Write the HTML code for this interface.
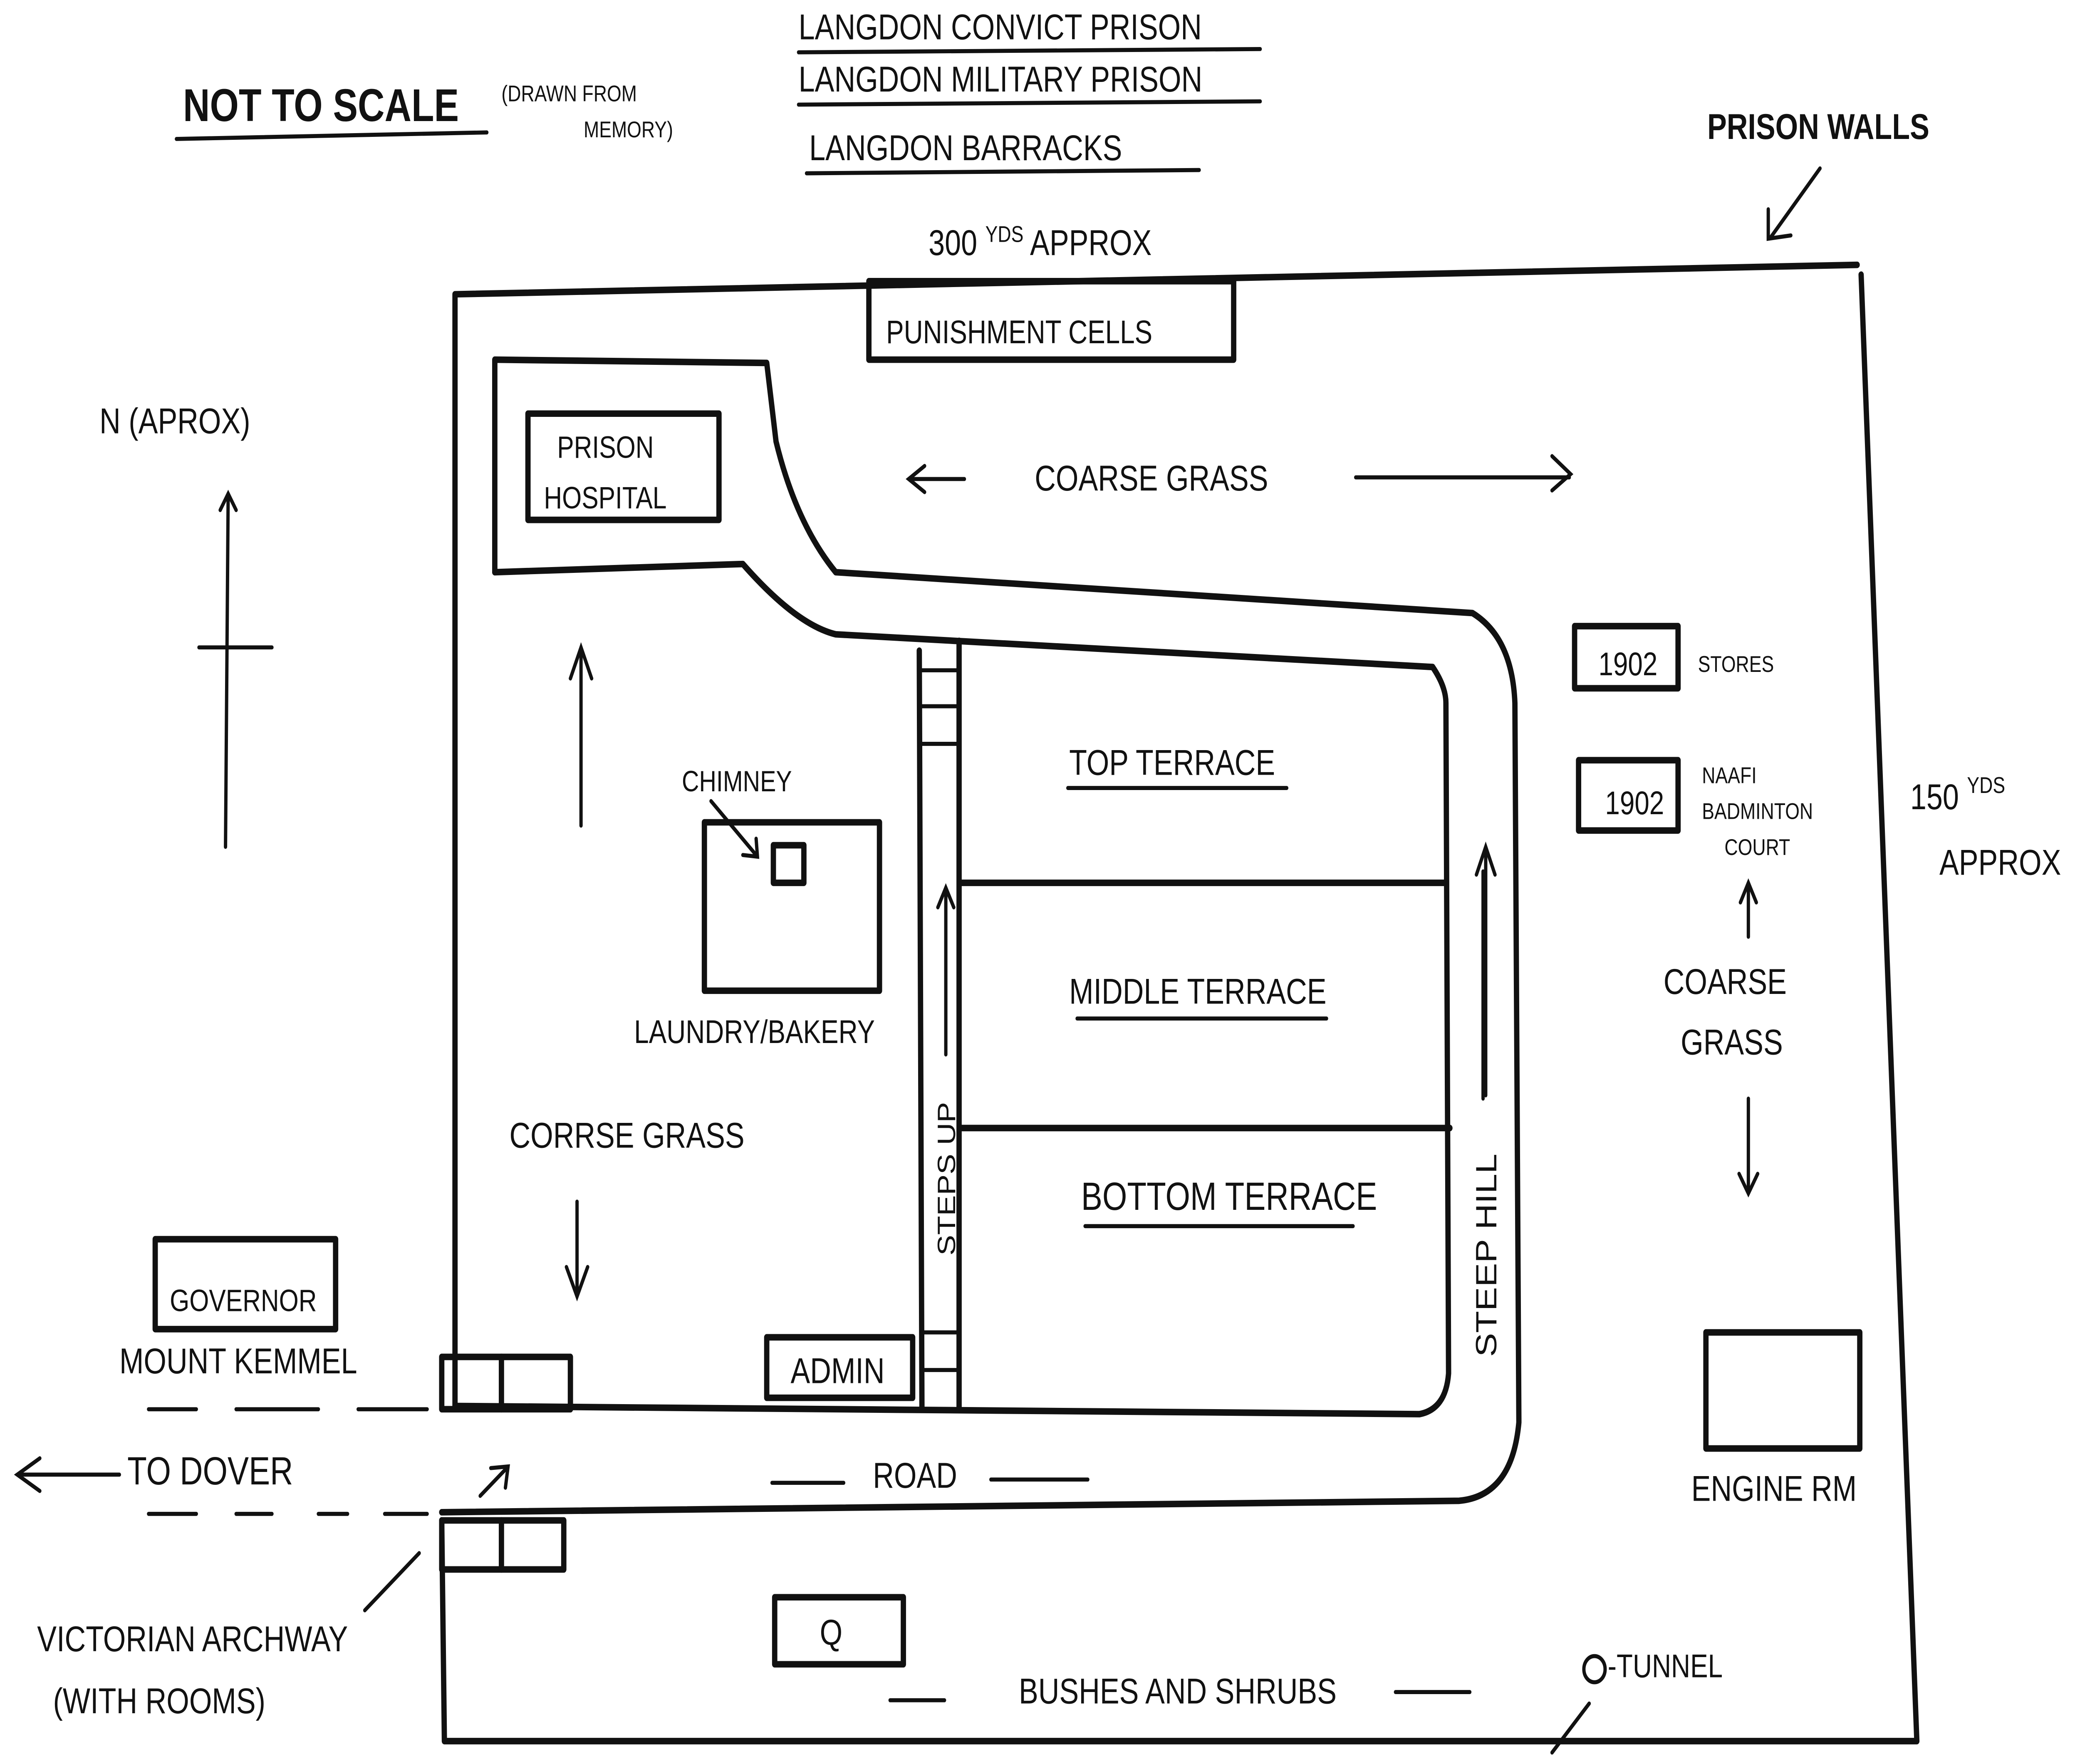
<!DOCTYPE html>
<html><head><meta charset="utf-8"><style>
html,body{margin:0;padding:0;background:#fff;width:100%;height:100%;overflow:hidden;}
svg{display:block;position:absolute;left:0;top:0;width:100vw;height:100vh;}
text{font-family:"Liberation Sans",sans-serif;fill:#111;}
</style></head><body>
<svg viewBox="0 0 1568 1079" preserveAspectRatio="none" xmlns="http://www.w3.org/2000/svg">
<rect width="1568" height="1079" fill="#fff"/>
<g stroke="#111" stroke-width="4" fill="none" stroke-linecap="round" stroke-linejoin="round">
<path d="M343,860 L343,180 L1400,162"/>
<path d="M1403,168 L1445,1065 L335,1065 L333,930"/>
<path d="M373,350 L373,220 L578,222 L585,270 Q600,320 630,350 L1110,375 Q1140,390 1142,430 L1145,870 Q1140,915 1100,918 L333,925"/>
<path d="M373,350 L560,345 Q600,382 630,388 L1080,408 Q1090,420 1090,430 L1092,840 Q1090,862 1070,865 L343,860"/>
<rect x="655" y="172" width="275" height="48"/>
<rect x="398" y="253" width="144" height="65"/>
<rect x="531" y="503" width="132" height="103"/>
<rect x="583" y="517" width="23" height="23"/>
<rect x="578" y="818" width="110" height="37"/>
<rect x="117" y="758" width="136" height="55"/>
<rect x="333" y="830" width="97" height="32"/><line x1="378" y1="830" x2="378" y2="862"/>
<rect x="333" y="930" width="92" height="30"/><line x1="378" y1="930" x2="378" y2="960"/>
<rect x="584" y="977" width="97" height="41"/>
<rect x="1187" y="383" width="78" height="38"/>
<rect x="1190" y="465" width="75" height="43"/>
<rect x="1286" y="815" width="116" height="71"/>
<line x1="693" y1="398" x2="695" y2="862"/><line x1="723" y1="392" x2="723" y2="862"/>
<g stroke-width="2.5"><line x1="693" y1="410" x2="723" y2="410"/><line x1="693" y1="432" x2="723" y2="432"/><line x1="693" y1="455" x2="723" y2="455"/><line x1="695" y1="815" x2="723" y2="815"/><line x1="695" y1="838" x2="723" y2="838"/></g>
<line x1="725" y1="540" x2="1090" y2="540"/>
<line x1="725" y1="690" x2="1093" y2="690"/>
</g>
<g stroke="#111" stroke-width="2.5" fill="none" stroke-linecap="round">
<line x1="172" y1="302" x2="170" y2="518"/><line x1="150" y1="396" x2="205" y2="396"/><path d="M166,312 L172,302 L178,312"/>
<line x1="438" y1="505" x2="438" y2="398"/><path d="M430,415 L438,396 L446,415"/>
<line x1="435" y1="735" x2="435" y2="792"/><path d="M427,775 L435,793 L443,775"/>
<line x1="713" y1="645" x2="713" y2="545"/><path d="M707,555 L713,543 L719,555"/>
<line x1="1120" y1="670" x2="1120" y2="520"/><path d="M1113,535 L1120,518 L1127,535"/>
<line x1="1318" y1="573" x2="1318" y2="542"/><path d="M1312,552 L1318,540 L1324,552"/>
<line x1="1318" y1="672" x2="1318" y2="728"/><path d="M1311,718 L1318,730 L1325,718"/>
<line x1="686" y1="293" x2="727" y2="293"/><path d="M697,285 L685,293 L697,301"/>
<line x1="1022" y1="292" x2="1183" y2="292"/><path d="M1170,279 L1184,290 L1170,300"/>
<line x1="1372" y1="103" x2="1335" y2="145"/><path d="M1333,128 L1333,146 L1350,144"/>
<line x1="15" y1="902" x2="90" y2="902"/><path d="M30,892 L13,902 L30,912"/>
<line x1="362" y1="915" x2="382" y2="898"/><path d="M370,898 L383,897 L381,910"/>
<line x1="112" y1="862" x2="148" y2="862"/><line x1="178" y1="862" x2="240" y2="862"/><line x1="270" y1="862" x2="322" y2="862"/>
<line x1="112" y1="926" x2="148" y2="926"/><line x1="178" y1="926" x2="205" y2="926"/><line x1="240" y1="926" x2="262" y2="926"/><line x1="290" y1="926" x2="322" y2="926"/>
<line x1="582" y1="907" x2="636" y2="907"/><line x1="747" y1="905" x2="820" y2="905"/>
<line x1="671" y1="1040" x2="712" y2="1040"/><line x1="1052" y1="1035" x2="1108" y2="1035"/>
<line x1="1118" y1="533" x2="1118" y2="672"/>
<line x1="275" y1="985" x2="316" y2="950"/>
<line x1="1170" y1="1072" x2="1198" y2="1042"/>
<line x1="536" y1="490" x2="570" y2="523"/><path d="M560,523 L571,524 L570,513"/>
<circle cx="1202" cy="1021" r="8"/>
<line x1="133" y1="85" x2="367" y2="81"/><line x1="602" y1="32" x2="950" y2="30"/><line x1="602" y1="64" x2="950" y2="62"/><line x1="608" y1="106" x2="904" y2="104"/>
<line x1="805" y1="482" x2="970" y2="482"/><line x1="812" y1="623" x2="1000" y2="623"/><line x1="818" y1="750" x2="1020" y2="750"/>
</g>
<g font-size="22">
<text x="138" y="74" font-size="28" font-weight="bold">NOT TO SCALE</text>
<text x="378" y="62" font-size="14">(DRAWN FROM</text><text x="440" y="84" font-size="14">MEMORY)</text>
<text x="602" y="24">LANGDON CONVICT PRISON</text>
<text x="602" y="56">LANGDON MILITARY PRISON</text>
<text x="610" y="98">LANGDON BARRACKS</text>
<text x="1287" y="85" font-weight="bold">PRISON WALLS</text>
<text x="700" y="156">300 <tspan font-size="14" dy="-8">YDS</tspan><tspan dy="8"> APPROX</tspan></text>
<text x="668" y="210" font-size="20">PUNISHMENT CELLS</text>
<text x="75" y="265">N (APROX)</text>
<text x="420" y="280" font-size="19">PRISON</text><text x="410" y="311" font-size="19">HOSPITAL</text>
<text x="780" y="300">COARSE GRASS</text>
<text x="1205" y="413" font-size="20">1902</text><text x="1280" y="411" font-size="14">STORES</text>
<text x="1210" y="498" font-size="20">1902</text>
<text x="1283" y="479" font-size="14">NAAFI</text><text x="1283" y="501" font-size="14">BADMINTON</text><text x="1300" y="523" font-size="14">COURT</text>
<text x="1440" y="495">150 <tspan font-size="14" dy="-10">YDS</tspan></text>
<text x="1462" y="535">APPROX</text>
<text x="514" y="484" font-size="18">CHIMNEY</text>
<text x="806" y="474">TOP TERRACE</text>
<text x="806" y="614">MIDDLE TERRACE</text>
<text x="815" y="740" font-size="24">BOTTOM TERRACE</text>
<text x="478" y="638" font-size="20">LAUNDRY/BAKERY</text>
<text x="384" y="702">CORRSE GRASS</text>
<text x="1254" y="608">COARSE</text><text x="1267" y="645">GRASS</text>
<text x="720" y="768" font-size="19" transform="rotate(-90 720 768)">STEPS UP</text>
<text x="1128" y="830" font-size="22" transform="rotate(-90 1128 830)">STEEP HILL</text>
<text x="128" y="802" font-size="19">GOVERNOR</text>
<text x="90" y="840">MOUNT KEMMEL</text>
<text x="96" y="908" font-size="24">TO DOVER</text>
<text x="596" y="846">ADMIN</text>
<text x="658" y="910">ROAD</text>
<text x="1275" y="918">ENGINE RM</text>
<text x="618" y="1006">Q</text>
<text x="768" y="1042">BUSHES AND SHRUBS</text>
<text x="1212" y="1026" font-size="20">-TUNNEL</text>
<text x="28" y="1010">VICTORIAN ARCHWAY</text>
<text x="40" y="1048">(WITH ROOMS)</text>
</g>
</svg>
</body></html>
